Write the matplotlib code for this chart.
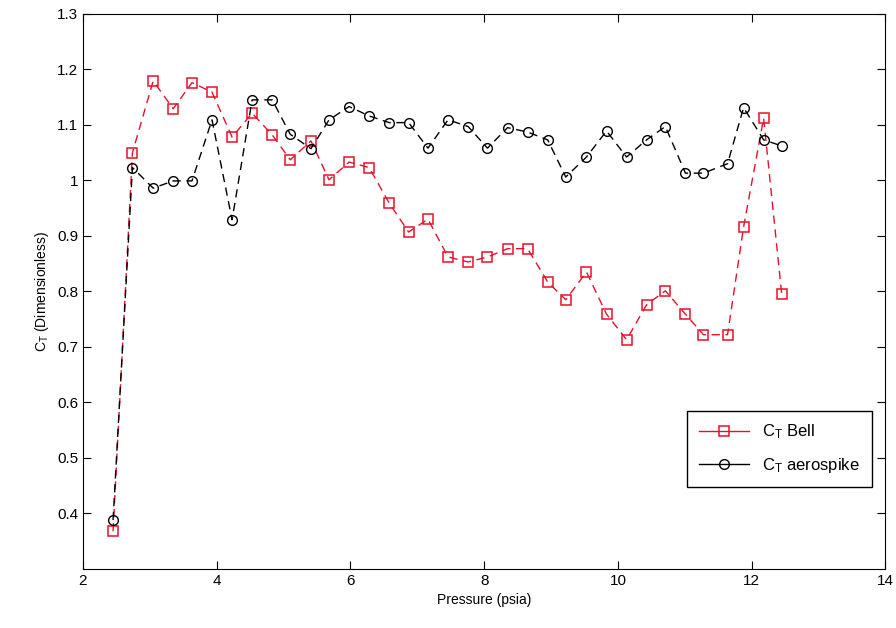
import numpy as np
import matplotlib
matplotlib.use('Agg')
import matplotlib.pyplot as plt

plt.rcParams['font.family'] = ['Liberation Sans', 'DejaVu Sans']
plt.rcParams['mathtext.fontset'] = 'custom'
plt.rcParams['mathtext.rm'] = 'Liberation Sans'

# pressure (psia)
pressure = [2.45, 2.74, 3.05, 3.35, 3.63, 3.93, 4.23, 4.53, 4.83, 5.10,
            5.41, 5.68, 5.98, 6.28, 6.58, 6.87, 7.16, 7.46, 7.76, 8.05,
            8.35, 8.65, 8.95, 9.22, 9.53, 9.83, 10.13, 10.43, 10.71, 11.01,
            11.28, 11.64, 11.88, 12.18, 12.45]

ct_bell = [0.368, 1.050, 1.179, 1.129, 1.176, 1.159, 1.078, 1.121, 1.082, 1.037,
           1.071, 1.001, 1.033, 1.023, 0.959, 0.907, 0.930, 0.862, 0.853, 0.862,
           0.877, 0.877, 0.817, 0.785, 0.835, 0.759, 0.713, 0.776, 0.801, 0.759,
           0.722, 0.722, 0.916, 1.112, 0.795]

ct_aero = [0.388, 1.023, 0.986, 0.999, 0.999, 1.109, 0.929, 1.145, 1.145, 1.083,
           1.057, 1.109, 1.133, 1.116, 1.104, 1.104, 1.058, 1.109, 1.097, 1.058,
           1.095, 1.087, 1.073, 1.006, 1.042, 1.089, 1.042, 1.073, 1.097, 1.013,
           1.013, 1.030, 1.131, 1.073, 1.062]


fig = plt.figure(figsize=(8.96, 6.28), dpi=100)
ax = fig.add_axes([0.0926, 0.094, 0.8955, 0.884])

ax.plot(pressure, ct_bell, '--s', color='#e8102a', lw=1.0, ms=7,
        mfc='none', mew=1.1, dashes=(6, 4), label=r'$\mathregular{C_T}$ Bell')
ax.plot(pressure, ct_aero, '--o', color='black', lw=1.0, ms=7,
        mfc='none', mew=1.0, dashes=(6, 4), label=r'$\mathregular{C_T}$ aerospike')

ax.set_xlim(2, 14)
ax.set_ylim(0.3, 1.3)
ax.set_xticks(np.arange(2, 15, 2))
ax.set_yticks(np.arange(0.4, 1.31, 0.1))
ax.set_yticklabels(['0.4', '0.5', '0.6', '0.7', '0.8', '0.9', '1', '1.1', '1.2', '1.3'])
ax.tick_params(direction='in', top=True, right=True, labelsize=11, length=6)

ax.set_xlabel('Pressure (psia)', fontsize=10)
ax.set_ylabel(r'$\mathregular{C_T}$ (Dimensionless)', fontsize=10)

leg = ax.legend(loc='lower right', bbox_to_anchor=(0.983, 0.148), fontsize=12,
                fancybox=False, edgecolor='black', framealpha=1,
                handlelength=3.0, handletextpad=0.8, borderpad=0.7,
                labelspacing=0.9, borderaxespad=0)
leg.get_frame().set_linewidth(1.0)
for h in leg.legend_handles:
    h.set_linestyle('-')

plt.savefig('out.png', dpi=100)
